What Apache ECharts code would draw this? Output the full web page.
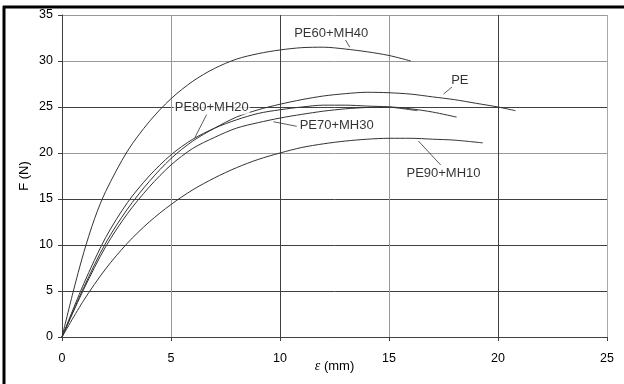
<!DOCTYPE html>
<html>
<head>
<meta charset="utf-8">
<script src="https://cdn.jsdelivr.net/npm/echarts@6/dist/echarts.min.js"></script>
<style>html,body{margin:0;padding:0;background:#fff}#c{width:624px;height:384px}</style>
</head>
<body>
<div id="c"></div>
<script>
// ---- data ----
var xTicks = [0, 5, 10, 15, 20, 25];
var yTicks = [0, 5, 10, 15, 20, 25, 30, 35];

var pe60_x = [0, 0.5, 1, 1.5, 2, 3, 4, 5, 6, 7, 8, 9, 10, 11, 12, 13, 14, 15, 16];
var pe60_y = [0, 4.8, 9.2, 12.9, 15.8, 20.2, 23.4, 25.9, 27.8, 29.2, 30.2, 30.8, 31.2, 31.45, 31.5, 31.3, 31.0, 30.6, 30.0];

var pe_x = [0, 1, 2, 3, 4, 5, 6, 7, 8, 9, 10, 11, 12, 13, 14, 15, 16, 17, 18, 19, 20, 20.8];
var pe_y = [0, 5.4, 10.2, 13.9, 16.9, 19.4, 21.3, 22.7, 23.9, 24.7, 25.3, 25.8, 26.2, 26.45, 26.6, 26.55, 26.4, 26.1, 25.8, 25.4, 25.0, 24.6];

var pe80_x = [0, 1, 2, 3, 4, 5, 6, 7, 8, 9, 10, 11, 12, 13, 14, 15, 16.3];
var pe80_y = [0, 5.8, 10.8, 14.6, 17.5, 19.8, 21.5, 22.7, 23.6, 24.3, 24.7, 25.0, 25.2, 25.2, 25.1, 25.0, 24.6];

var pe70_x = [0, 1, 2, 3, 4, 5, 6, 7, 8, 9, 10, 11, 12, 13, 14, 15, 16, 17, 18.1];
var pe70_y = [0, 5.2, 9.8, 13.4, 16.3, 18.7, 20.5, 21.7, 22.7, 23.3, 23.8, 24.2, 24.55, 24.8, 24.95, 25.0, 24.8, 24.45, 23.9];

var pe90_x = [0, 1, 2, 3, 4, 5, 6, 7, 8, 9, 10, 11, 12, 13, 14, 15, 16, 17, 18, 19.3];
var pe90_y = [0, 4.0, 7.4, 10.2, 12.5, 14.4, 16.0, 17.3, 18.4, 19.3, 20.0, 20.6, 21.0, 21.3, 21.5, 21.6, 21.6, 21.5, 21.4, 21.1];

var seriesNames = ['PE60+MH40', 'PE', 'PE80+MH20', 'PE70+MH30', 'PE90+MH10'];

// annotation anchors (data coordinates): label centre, leader start, leader end
var labelX = [12.35, 18.25, 6.87, 12.6, 17.5];
var labelY = [33.0, 27.9, 24.9, 23.0, 17.75];
var leadX1 = [13.0, 17.9, 6.64, 10.77, 17.37];
var leadY1 = [32.3, 27.2, 24.2, 22.9, 18.7];
var leadX2 = [13.2, 17.5, 6.1, 9.7, 16.35];
var leadY2 = [31.5, 26.4, 21.7, 23.4, 21.3];

function pairs(xs, ys) { return xs.map(function (x, i) { return [x, ys[i]]; }); }

var curves = [[pe60_x, pe60_y], [pe_x, pe_y], [pe80_x, pe80_y], [pe70_x, pe70_y], [pe90_x, pe90_y]];

var series = curves.map(function (c, i) {
  return {
    type: 'line', name: seriesNames[i], data: pairs(c[0], c[1]),
    smooth: 0.3, showSymbol: false, silent: true,
    lineStyle: { color: '#333', width: 1 }, z: 3
  };
});

seriesNames.forEach(function (n, i) {
  series.push({
    type: 'line', data: [[leadX1[i], leadY1[i]], [leadX2[i], leadY2[i]]],
    showSymbol: false, silent: true, lineStyle: { color: '#333', width: 0.8 }, z: 4
  });
});

series.push({
  type: 'scatter', symbolSize: 0, silent: true, z: 5,
  data: seriesNames.map(function (n, i) { return { value: [labelX[i], labelY[i]], name: n }; }),
  label: {
    show: true, position: 'inside', formatter: '{b}', color: '#000',
    fontFamily: 'Liberation Sans, Arial, sans-serif', fontSize: 13,
    backgroundColor: '#fff', padding: [0, 1]
  }
});

var chart = echarts.init(document.getElementById('c'), null, { renderer: 'canvas' });
chart.setOption({
  animation: false,
  backgroundColor: '#fff',
  grid: { left: 62, right: 17, top: 15, bottom: 47, outerBoundsMode: 'none', containLabel: false },
  xAxis: {
    type: 'value', min: xTicks[0], max: xTicks[xTicks.length - 1], interval: 5,
    name: '{i|ε} (mm)', nameLocation: 'middle', nameGap: 22, nameMoveOverlap: false,
    nameTextStyle: { fontFamily: 'Liberation Sans, Arial, sans-serif', fontSize: 13, color: '#000',
      rich: { i: { fontStyle: 'italic', fontFamily: 'Liberation Serif, serif', fontSize: 14, color: '#000' } } },
    axisLine: { show: true, lineStyle: { color: '#404040', width: 1 } },
    axisTick: { show: true, inside: false, length: 4, lineStyle: { color: '#404040' } },
    axisLabel: { margin: 15, color: '#000', fontFamily: 'Liberation Sans, Arial, sans-serif', fontSize: 12.5 },
    splitLine: { show: true, lineStyle: { color: ['#404040', '#999', '#404040', '#999', '#404040', '#aaa'], width: 1 } }
  },
  yAxis: {
    type: 'value', min: yTicks[0], max: yTicks[yTicks.length - 1], interval: 5,
    name: 'F (N)', nameLocation: 'middle', nameGap: 31, nameRotate: 90, nameMoveOverlap: false,
    nameTextStyle: { fontFamily: 'Liberation Sans, Arial, sans-serif', fontSize: 13, color: '#000' },
    axisLine: { show: true, lineStyle: { color: '#404040', width: 1 } },
    axisTick: { show: true, inside: false, length: 4, lineStyle: { color: '#404040' } },
    axisLabel: { margin: 9, color: '#000', fontFamily: 'Liberation Sans, Arial, sans-serif', fontSize: 12.5 },
    splitLine: { show: true, lineStyle: { color: ['#404040', '#404040', '#404040', '#404040', '#999', '#404040', '#999', '#999'], width: 1 } }
  },
  graphic: [
    { type: 'line', shape: { x1: 3, y1: 7, x2: 624, y2: 7 }, style: { stroke: '#000', lineWidth: 3 }, z: 10 },
    { type: 'line', shape: { x1: 4, y1: 6, x2: 4, y2: 384 }, style: { stroke: '#000', lineWidth: 3 }, z: 10 }
  ],
  series: series
});
</script>
</body>
</html>
